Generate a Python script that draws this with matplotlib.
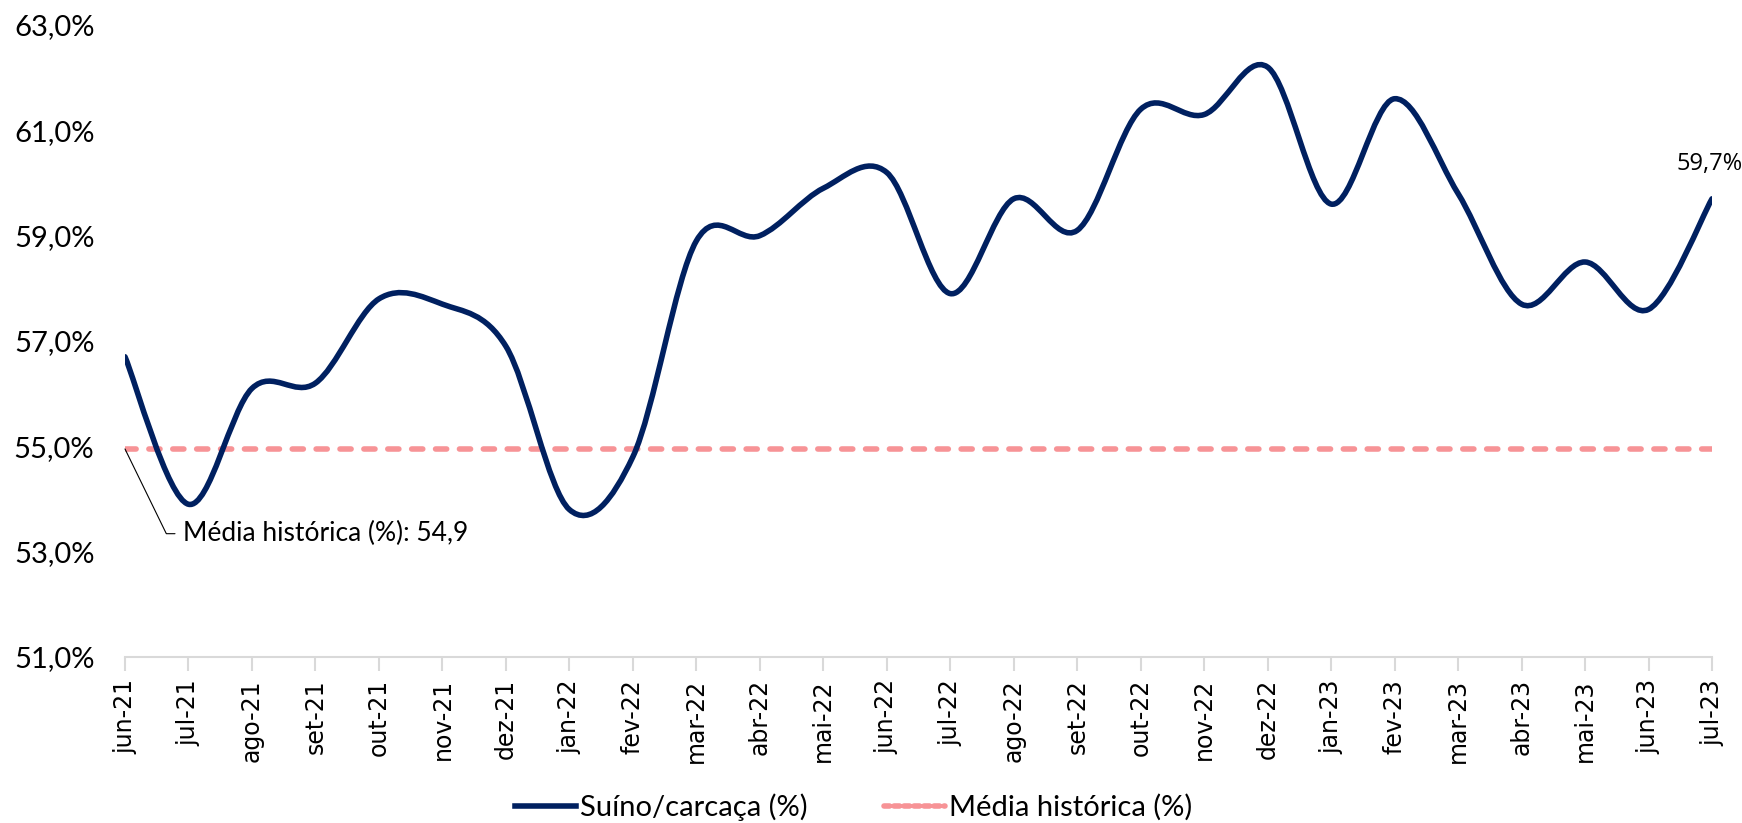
import numpy as np
import matplotlib
matplotlib.use("Agg")
import matplotlib.pyplot as plt
from matplotlib.path import Path
from matplotlib.patches import PathPatch
from matplotlib.lines import Line2D
from matplotlib.ticker import FuncFormatter

months = ["jun-21", "jul-21", "ago-21", "set-21", "out-21", "nov-21", "dez-21",
          "jan-22", "fev-22", "mar-22", "abr-22", "mai-22", "jun-22", "jul-22",
          "ago-22", "set-22", "out-22", "nov-22", "dez-22", "jan-23", "fev-23",
          "mar-23", "abr-23", "mai-23", "jun-23", "jul-23"]
suino = [56.7, 53.9, 56.1, 56.2, 57.8, 57.7, 56.9, 53.8, 54.8, 58.9, 59.0, 59.9,
         60.2, 57.9, 59.7, 59.1, 61.4, 61.3, 62.2, 59.6, 61.6, 59.8, 57.7, 58.5,
         57.6, 59.7]
media_hist = 54.95
media_label = "54,9"

NAVY = "#002060"
PINK = "#F79396"
LABEL_FONT = ["Lato", "DejaVu Sans"]


def smooth_path(xs, ys):
    # Excel-like smoothed line: cubic Bezier segments, Catmull-Rom control points
    pts = np.column_stack([xs, ys]).astype(float)
    n = len(pts)
    verts = [pts[0]]
    codes = [Path.MOVETO]
    for i in range(n - 1):
        p0 = pts[i - 1] if i > 0 else pts[i]
        p1 = pts[i]
        p2 = pts[i + 1]
        p3 = pts[i + 2] if i + 2 < n else pts[i + 1]
        c1 = p1 + (p2 - p0) / 6.0
        c2 = p2 - (p3 - p1) / 6.0
        verts += [c1, c2, p2]
        codes += [Path.CURVE4] * 3
    return Path(verts, codes)


fig = plt.figure(figsize=(17.42, 8.23), dpi=100)
ax = fig.add_axes([125 / 1742, 1 - 657 / 823, (1712 - 125) / 1742, (657 - 25) / 823])

x = np.arange(len(months))
patch = PathPatch(smooth_path(x, suino), facecolor="none", edgecolor=NAVY,
                  lw=4.0, capstyle="round", joinstyle="round", zorder=3)
ax.add_patch(patch)
ax.plot([x[0], x[-1]], [media_hist, media_hist], color=PINK, lw=4.0,
        dashes=(2.0, 2.3), dash_capstyle="round", zorder=2)

ax.set_xlim(x[0], x[-1])
ax.set_ylim(51, 63)
ax.set_yticks(np.arange(51, 63.1, 2))
ax.yaxis.set_major_formatter(FuncFormatter(lambda v, p: f"{v:.1f}%".replace(".", ",")))
ax.set_xticks(x)
ax.set_xticklabels(months, rotation=90, fontsize=17, family="DejaVu Sans")

for s in ["top", "right", "left"]:
    ax.spines[s].set_visible(False)
ax.spines["bottom"].set_color("#D9D9D9")
ax.spines["bottom"].set_linewidth(1.5)
ax.tick_params(axis="x", length=10, width=1.5, color="#D9D9D9", pad=6)
ax.tick_params(axis="y", length=0, pad=22, labelsize=21)
for lab in ax.get_yticklabels():
    lab.set_family(LABEL_FONT)

# last value label
ax.annotate(f"{suino[-1]:.1f}%".replace(".", ","), xy=(x[-1], suino[-1]),
            xytext=(-2, 25), textcoords="offset points", ha="center", va="center",
            fontsize=17, family=["Open Sans", "DejaVu Sans"])

# historical average callout
ax.annotate(f"Média histórica (%): {media_label}", xy=(x[0], media_hist),
            xytext=(42, -61), textcoords="offset points", ha="left", va="center",
            fontsize=19, family=LABEL_FONT,
            arrowprops=dict(arrowstyle="-", color="black", lw=0.8,
                            connectionstyle="angle,angleA=180,angleB=116,rad=0",
                            shrinkA=4, shrinkB=0))

handles = [Line2D([], [], color=NAVY, lw=4.0),
           Line2D([], [], color=PINK, lw=4.0, dashes=(1.0, 0.8), dash_capstyle="round")]
fig.legend(handles, ["Suíno/carcaça (%)", "Média histórica (%)"], loc="center",
           bbox_to_anchor=(0.49, 16 / 823), ncol=2, frameon=False,
           prop={"family": LABEL_FONT, "size": 21}, handlelength=2.1,
           columnspacing=2.6, handletextpad=0.15)

fig.savefig("out.png", dpi=100)
